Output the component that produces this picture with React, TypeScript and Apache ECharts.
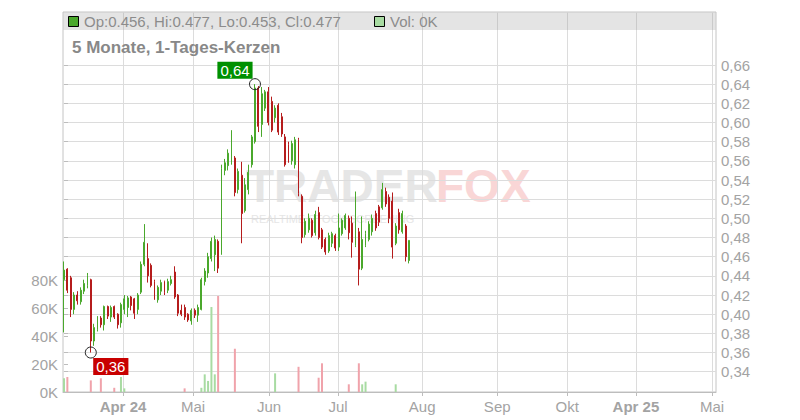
import { useEffect, useRef } from 'react';
import * as echarts from 'echarts';

// ---------- data ----------
const openP = [
  0.436, 0.447, 0.438, 0.405, 0.420, 0.413, 0.424, 0.430, 0.436, 0.372,
  0.384, 0.396, 0.389, 0.408, 0.397, 0.408, 0.400, 0.391, 0.405, 0.407,
  0.418, 0.416, 0.405, 0.423, 0.452, 0.458, 0.451, 0.434, 0.415, 0.424,
  0.434, 0.425, 0.432, 0.444, 0.420, 0.404, 0.407, 0.400, 0.393, 0.404,
  0.399, 0.405, 0.434, 0.443, 0.458, 0.462, 0.476, 0.464, 0.550, 0.555,
  0.558, 0.563, 0.530, 0.545, 0.508, 0.530, 0.556, 0.580, 0.636, 0.598,
  0.615, 0.632, 0.622, 0.605, 0.618, 0.606, 0.585, 0.577, 0.560, 0.556,
  0.582, 0.523, 0.483, 0.488, 0.498, 0.485, 0.506, 0.488, 0.478, 0.466,
  0.474, 0.482, 0.470, 0.484, 0.490, 0.500, 0.495, 0.472, 0.486, 0.448,
  0.472, 0.478, 0.486, 0.505, 0.512, 0.511, 0.528, 0.522, 0.518, 0.474,
  0.506, 0.486, 0.492, 0.456,
];
const closeP = [
  0.446, 0.425, 0.405, 0.420, 0.414, 0.425, 0.432, 0.440, 0.372, 0.386,
  0.395, 0.389, 0.408, 0.398, 0.407, 0.397, 0.389, 0.410, 0.416, 0.417,
  0.409, 0.401, 0.420, 0.452, 0.475, 0.440, 0.430, 0.418, 0.428, 0.433,
  0.423, 0.434, 0.436, 0.418, 0.401, 0.400, 0.397, 0.394, 0.404, 0.399,
  0.407, 0.436, 0.445, 0.460, 0.476, 0.478, 0.448, 0.552, 0.558, 0.568,
  0.590, 0.527, 0.549, 0.505, 0.535, 0.548, 0.585, 0.636, 0.596, 0.630,
  0.632, 0.600, 0.592, 0.615, 0.590, 0.588, 0.556, 0.560, 0.578, 0.582,
  0.526, 0.480, 0.497, 0.500, 0.482, 0.504, 0.480, 0.470, 0.465, 0.482,
  0.484, 0.469, 0.490, 0.498, 0.503, 0.485, 0.475, 0.518, 0.447, 0.478,
  0.484, 0.494, 0.500, 0.490, 0.496, 0.530, 0.515, 0.500, 0.470, 0.492,
  0.488, 0.505, 0.460, 0.477,
];
const lowP = [
  0.381, 0.422, 0.397, 0.400, 0.410, 0.410, 0.421, 0.427, 0.360, 0.367,
  0.382, 0.386, 0.383, 0.395, 0.392, 0.395, 0.385, 0.386, 0.400, 0.397,
  0.404, 0.395, 0.400, 0.421, 0.450, 0.433, 0.428, 0.415, 0.412, 0.420,
  0.420, 0.422, 0.430, 0.416, 0.398, 0.398, 0.394, 0.392, 0.389, 0.396,
  0.392, 0.404, 0.430, 0.438, 0.455, 0.445, 0.443, 0.462, 0.545, 0.550,
  0.556, 0.523, 0.526, 0.474, 0.506, 0.525, 0.553, 0.578, 0.590, 0.585,
  0.612, 0.597, 0.590, 0.600, 0.587, 0.585, 0.554, 0.558, 0.556, 0.552,
  0.523, 0.474, 0.480, 0.485, 0.480, 0.482, 0.478, 0.468, 0.462, 0.464,
  0.470, 0.466, 0.466, 0.482, 0.488, 0.478, 0.459, 0.470, 0.430, 0.446,
  0.470, 0.476, 0.482, 0.487, 0.492, 0.509, 0.512, 0.495, 0.458, 0.472,
  0.484, 0.484, 0.455, 0.453,
];
const highP = [
  0.455, 0.448, 0.440, 0.423, 0.424, 0.428, 0.436, 0.443, 0.437, 0.390,
  0.398, 0.398, 0.409, 0.409, 0.409, 0.409, 0.401, 0.412, 0.420, 0.419,
  0.419, 0.417, 0.422, 0.455, 0.494, 0.474, 0.453, 0.436, 0.430, 0.436,
  0.435, 0.437, 0.440, 0.450, 0.421, 0.410, 0.410, 0.401, 0.406, 0.406,
  0.410, 0.438, 0.448, 0.464, 0.480, 0.482, 0.478, 0.556, 0.562, 0.572,
  0.592, 0.565, 0.552, 0.559, 0.542, 0.556, 0.587, 0.640, 0.638, 0.637,
  0.634, 0.637, 0.627, 0.618, 0.620, 0.610, 0.588, 0.580, 0.581, 0.585,
  0.584, 0.525, 0.500, 0.505, 0.500, 0.508, 0.512, 0.490, 0.480, 0.485,
  0.486, 0.484, 0.505, 0.500, 0.505, 0.503, 0.502, 0.528, 0.490, 0.502,
  0.487, 0.497, 0.504, 0.508, 0.514, 0.537, 0.532, 0.525, 0.527, 0.495,
  0.510, 0.508, 0.494, 0.477,
];
// volume in thousands
const volumeK = [
  9.8, 10.7, 0, 0, 0, 0, 0, 0, 8.3, 0,
  0, 9.8, 0, 0, 0, 3, 0, 10.7, 2.6, 0,
  0, 0, 0, 0, 0, 0, 0, 0, 0, 0,
  0, 0, 0, 0, 0, 0, 2.6, 0, 0, 0,
  0, 3, 12.6, 7.9, 60.7, 12.6, 68.6, 0, 0, 0,
  0, 30.9, 0, 0, 0, 0, 0, 0, 0, 0,
  0, 0, 0, 13.3, 0, 0, 0, 0, 0, 0,
  18, 0, 0, 0, 0, 0, 10.2, 20.5, 0, 0,
  0, 0, 0, 0, 0, 5.5, 0, 0, 20.5, 5.5,
  7.4, 0, 0, 0, 0, 0, 0, 0, 0, 5.5,
  0, 0, 0, 0,
];
// month tick positions on the trading-day axis, and their labels
const monthTickPos = [17.6, 38.5, 61.2, 81.8, 106.9, 129.3, 150.2, 170.7, 193.4];
const monthLabels = ['Apr 24', 'Mai', 'Jun', 'Jul', 'Aug', 'Sep', 'Okt', 'Apr 25', 'Mai'];
const boldLabels = ['Apr 24', 'Apr 25'];
const priceTicksMin = 0.34;
const priceTicksMax = 0.66;
const volumeMax = 80000;
const titleText = '5 Monate, 1-Tages-Kerzen';

// ---------- styles ----------
const FONT = '"Liberation Sans", Arial, sans-serif';
const GREEN = '#4aa82c';
const RED = '#b51c1c';
const VOL_GREEN = '#a8dba2';
const VOL_RED = '#f0a3ab';
const GRID_LINE = '#dcdcdc';
const AXIS_LINE = '#bdbdbd';
const LABEL = '#a3a3a3';
const X_MIN = -0.3;
const X_MAX = 194.6;

const fmt2 = (v: number) => v.toFixed(2).replace('.', ',');

export default function App() {
  const ref = useRef<HTMLDivElement>(null);

  useEffect(() => {
    if (!ref.current) return;
    const chart = echarts.init(ref.current, null, { renderer: 'svg' });

    const n = openP.length;
    const candleData = openP.map((o, i) => [i, o, closeP[i], lowP[i], highP[i]]);
    const volData = volumeK.map((v, i) => ({
      value: [i, v * 1000],
      itemStyle: { color: closeP[i] >= openP[i] ? VOL_GREEN : VOL_RED },
    }));

    let hiIdx = 0;
    let loIdx = 0;
    for (let i = 0; i < n; i++) {
      if (highP[i] > highP[hiIdx]) hiIdx = i;
      if (lowP[i] < lowP[loIdx]) loIdx = i;
    }
    const last = n - 1;
    const legendText = `Op:${openP[last].toFixed(3)}, Hi:${highP[last].toFixed(3)}, Lo:${lowP[last].toFixed(3)}, Cl:${closeP[last].toFixed(3)}`;
    const volText = `Vol: ${Math.round(volumeK[last])}K`;

    const hiddenX = (gi: number) => ({
      gridIndex: gi,
      type: 'value',
      min: X_MIN,
      max: X_MAX,
      show: false,
      splitLine: { show: false },
    });

    const option: any = {
      animation: false,
      backgroundColor: '#ffffff',
      textStyle: { fontFamily: FONT },
      grid: [
        { left: 63, right: 84, top: 12, bottom: 28, show: true, borderColor: '#c4c4c4', borderWidth: 1, backgroundColor: 'transparent' },
        { left: 63, right: 84, top: 65, bottom: 48.3 },
        { left: 63, right: 84, top: 280, bottom: 28 },
      ],
      xAxis: [
        {
          gridIndex: 0,
          type: 'value',
          min: X_MIN,
          max: X_MAX,
          axisLine: { show: true, lineStyle: { color: AXIS_LINE } },
          axisTick: { show: true, customValues: monthTickPos, length: 4, lineStyle: { color: AXIS_LINE } },
          axisLabel: {
            customValues: monthTickPos,
            color: LABEL,
            fontSize: 15,
            fontFamily: FONT,
            margin: 7,
            formatter: (v: number) => {
              let k = 0;
              for (let j = 0; j < monthTickPos.length; j++) {
                if (Math.abs(monthTickPos[j] - v) < Math.abs(monthTickPos[k] - v)) k = j;
              }
              const s = monthLabels[k];
              return boldLabels.includes(s) ? `{b|${s}}` : s;
            },
            rich: { b: { fontWeight: 'bold', fontSize: 15, color: LABEL, fontFamily: FONT } },
          },
          splitLine: { show: true, lineStyle: { color: GRID_LINE, width: 1 } },
        },
        hiddenX(1),
        hiddenX(2),
      ],
      yAxis: [
        { gridIndex: 0, type: 'value', show: false, min: 0, max: 1 },
        {
          gridIndex: 1,
          type: 'value',
          position: 'right',
          min: priceTicksMin,
          max: priceTicksMax,
          interval: 0.02,
          axisLine: { show: false },
          axisTick: { show: true, length: 4, lineStyle: { color: AXIS_LINE } },
          axisLabel: { color: LABEL, fontSize: 15, fontFamily: FONT, margin: 5, formatter: (v: number) => fmt2(v) },
          splitLine: { show: true, lineStyle: { color: GRID_LINE, width: 1 } },
        },
        {
          gridIndex: 2,
          type: 'value',
          position: 'left',
          min: 0,
          max: volumeMax,
          interval: 20000,
          axisLine: { show: false },
          axisTick: { show: true, inside: true, length: 4, lineStyle: { color: AXIS_LINE } },
          axisLabel: { color: LABEL, fontSize: 15, fontFamily: FONT, margin: 5, formatter: (v: number) => `${Math.round(v / 1000)}K` },
          splitLine: { show: false },
        },
      ],
      series: [
        {
          type: 'bar',
          xAxisIndex: 2,
          yAxisIndex: 2,
          barWidth: 2,
          data: volData,
          z: 2,
        },
        {
          type: 'candlestick',
          xAxisIndex: 1,
          yAxisIndex: 1,
          barWidth: 1.4,
          encode: { x: 0, y: [1, 2, 3, 4] },
          data: candleData,
          itemStyle: {
            color: GREEN,
            color0: RED,
            borderColor: GREEN,
            borderColor0: RED,
            borderWidth: 1,
          },
          z: 3,
        },
        {
          type: 'scatter',
          xAxisIndex: 1,
          yAxisIndex: 1,
          symbol: 'circle',
          symbolSize: 11,
          itemStyle: { color: 'rgba(0,0,0,0)', borderColor: '#222', borderWidth: 1, opacity: 1 },
          z: 5,
          label: {
            show: true,
            position: 'inside',
            color: '#ffffff',
            fontSize: 15,
            fontFamily: FONT,
            padding: [1, 3, 0, 3],
            lineHeight: 16,
            formatter: (p: any) => fmt2(p.value[1]),
          },
          data: [
            { value: [hiIdx, highP[hiIdx]], label: { offset: [-20, -14], backgroundColor: '#009000' } },
            { value: [loIdx, lowP[loIdx]], label: { offset: [20, 14], backgroundColor: '#c80000' } },
          ],
        },
      ],
      graphic: [
        {
          type: 'group',
          z: -1,
          silent: true,
          children: [
            {
              type: 'text', z: -1, x: 246, y: 209,
              style: { text: 'TRADER', font: `bold 46px ${FONT}`, fill: '#e6e6e6', textVerticalAlign: 'bottom' },
            },
            {
              type: 'text', z: -1, x: 436, y: 209,
              style: { text: 'FOX', font: `bold 46px ${FONT}`, fill: '#f9d6d6', textVerticalAlign: 'bottom' },
            },
            {
              type: 'text', z: -1, x: 251, y: 219,
              style: { text: 'REALTIME STOCK SCREENING', font: `11px ${FONT}`, fill: '#e6e6e6', textVerticalAlign: 'middle' },
            },
          ],
        },
        { type: 'rect', z: 9, silent: true, shape: { x: 63.5, y: 12.5, width: 652, height: 17.5 }, style: { fill: 'rgba(150,150,150,0.26)' } },
        { type: 'rect', z: 10, shape: { x: 68.5, y: 16.5, width: 10, height: 10 }, style: { fill: GREEN, stroke: '#000', lineWidth: 1 } },
        {
          type: 'text', z: 10, x: 84, y: 21.5,
          style: { text: legendText, font: `15px ${FONT}`, fill: '#8c8c8c', textVerticalAlign: 'middle' },
        },
        { type: 'rect', z: 10, shape: { x: 374.5, y: 16.5, width: 10, height: 10 }, style: { fill: VOL_GREEN, stroke: '#000', lineWidth: 1 } },
        {
          type: 'text', z: 10, x: 390, y: 21.5,
          style: { text: volText, font: `15px ${FONT}`, fill: '#8c8c8c', textVerticalAlign: 'middle' },
        },
        {
          type: 'text', z: 10, x: 72, y: 47.5,
          style: { text: titleText, font: `bold 17px ${FONT}`, fill: '#888888', textVerticalAlign: 'middle' },
        },
      ],
    };

    chart.setOption(option);
    return () => chart.dispose();
  }, []);

  return (
    <div
      ref={ref}
      style={{ position: 'fixed', left: 0, top: 0, width: 800, height: 420 }}
    />
  );
}
